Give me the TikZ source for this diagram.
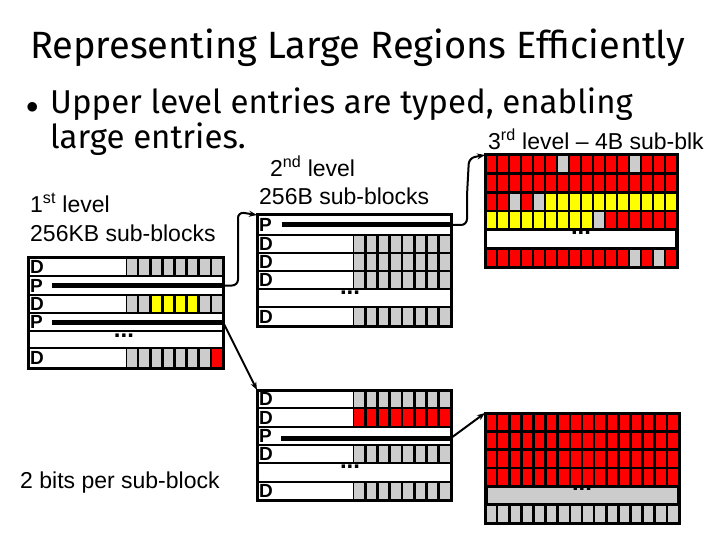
\documentclass[tikz,border=0pt]{standalone}
\usepackage{fontspec}
\setmainfont{Liberation Sans}
\newfontfamily\titlefont{Fira Sans}
\usetikzlibrary{arrows.meta}
\definecolor{cg}{RGB}{204,204,204}
\definecolor{cr}{RGB}{255,0,0}
\definecolor{cy}{RGB}{255,255,0}
\newcommand\cellrow[6]{%
  \fill[black] (#1,#3) rectangle (#2,#4);
  \foreach \cc [count=\ii] in {#6}{%
    \pgfmathsetmacro\xa{#1+(\ii-1)*(#2-#1)/#5+1.3}%
    \pgfmathsetmacro\xb{#1+\ii*(#2-#1)/#5-1.3}%
    \fill[\cc] (\xa,#3+1.3) rectangle (\xb,#4-1.3);}}
\tikzset{
  frame/.style={line width=3pt},
  sep/.style={line width=2.2pt},
  lett/.style={anchor=west,inner sep=0pt,font=\bfseries\fontsize{19}{19}\selectfont},
  lbl/.style={anchor=base west,inner sep=0pt,font=\fontsize{23}{25}\selectfont},
  pbar/.style={line width=5pt},
  dots/.style={inner sep=0pt,font=\bfseries\fontsize{24}{24}\selectfont},
  conn/.style={line width=2pt,-{Stealth[length=8pt,width=6pt]}}
}
\begin{document}
\begin{tikzpicture}[x=1pt,y=-1pt]
\useasboundingbox (0,0) rectangle (720,540);
% titles
\node[lbl,font=\titlefont\fontsize{38}{40}\selectfont] (title) at (30,59) {Representing Large Regions Efficiently};
\node[lbl,font=\titlefont\fontsize{33}{36}\selectfont] (b1) at (26,114) {$\bullet$};
\node[lbl,font=\titlefont\fontsize{33}{36}\selectfont] (t1) at (50,114) {Upper level entries are typed, enabling};
\node[lbl,font=\titlefont\fontsize{33}{36}\selectfont] (t2) at (50,149) {large entries.};
\node[lbl] (l1a) at (30,213) {1\textsuperscript{st} level};
\node[lbl] (l1b) at (30,241) {256KB sub-blocks};
\node[lbl] (l2a) at (270,177) {2\textsuperscript{nd} level};
\node[lbl] (l2b) at (259,205) {256B sub-blocks};
\node[lbl] (l3) at (488,150) {3\textsuperscript{rd} level -- 4B sub-blk};
\node[lbl] (bits) at (20,488) {2 bits per sub-block};

% ===== Level 1 =====
\cellrow{126}{223}{257}{276}{8}{cg,cg,cg,cg,cg,cg,cg,cg}
\cellrow{126}{223}{295}{313}{8}{cg,cg,cy,cy,cy,cy,cg,cg}
\cellrow{126}{223}{348}{368}{8}{cg,cg,cg,cg,cg,cg,cg,cr}
\foreach \y in {276,295,313,331,348} \draw[sep] (28,\y) -- (223,\y);
\draw[frame] (28,257) rectangle (223,368);
\node[lett] at (30,266.5) {D};
\node[lett] at (30,285.5) {P};
\node[lett] at (30,304) {D};
\node[lett] at (30,322) {P};
\node[lett] at (30,358) {D};
\node[dots] at (124,336) {...};
\draw[pbar] (52,285.5) -- (222,285.5);
\draw[pbar] (52,322) -- (222,322);
\coordinate (p1a) at (223,285.5);
\coordinate (p1b) at (223,322);

% ===== Level 2 top =====
\cellrow{353}{451}{235}{253}{8}{cg,cg,cg,cg,cg,cg,cg,cg}
\cellrow{353}{451}{253}{271}{8}{cg,cg,cg,cg,cg,cg,cg,cg}
\cellrow{353}{451}{271}{289}{8}{cg,cg,cg,cg,cg,cg,cg,cg}
\cellrow{353}{451}{307}{326}{8}{cg,cg,cg,cg,cg,cg,cg,cg}
\foreach \y in {235,253,271,289,307} \draw[sep] (257,\y) -- (451,\y);
\draw[frame] (257,215) rectangle (451,326);
\node[lett] at (259,225) {P};
\node[lett] at (259,244) {D};
\node[lett] at (259,262) {D};
\node[lett] at (259,280) {D};
\node[lett] at (259,316.5) {D};
\node[dots] at (350,293) {...};
\draw[pbar] (282,225) -- (450,225);
\coordinate (l2top) at (257,215);
\coordinate (p2a) at (451,225);

% ===== Level 2 bottom =====
\cellrow{353}{451}{390}{408}{8}{cg,cg,cg,cg,cg,cg,cg,cg}
\cellrow{353}{451}{408}{427}{8}{cr,cr,cr,cr,cr,cr,cr,cr}
\cellrow{353}{451}{445}{463}{8}{cg,cg,cg,cg,cg,cg,cg,cg}
\cellrow{353}{451}{482}{500}{8}{cg,cg,cg,cg,cg,cg,cg,cg}
\foreach \y in {408,427,445,463,482} \draw[sep] (257,\y) -- (451,\y);
\draw[frame] (257,390) rectangle (451,500);
\node[lett] at (259,399) {D};
\node[lett] at (259,417.5) {D};
\node[lett] at (259,436) {P};
\node[lett] at (259,454) {D};
\node[lett] at (259,491) {D};
\node[dots] at (350,467) {...};
\draw[pbar] (281,438) -- (450,438);
\coordinate (l2bot) at (257,390);
\coordinate (p2b) at (451,438);

% ===== Level 3 top =====
\fill[black] (485,155) rectangle (677,267);
\cellrow{485}{677}{155}{173.7}{16}{cr,cr,cr,cr,cr,cr,cg,cr,cr,cr,cr,cr,cg,cr,cr,cr}
\cellrow{485}{677}{173.7}{192.3}{16}{cr,cr,cr,cr,cr,cr,cr,cr,cr,cr,cr,cr,cr,cr,cr,cr}
\cellrow{485}{677}{192.3}{211}{16}{cr,cr,cg,cr,cg,cy,cy,cy,cy,cy,cy,cy,cy,cy,cy,cy}
\cellrow{485}{677}{211}{229.7}{16}{cy,cy,cy,cy,cy,cy,cy,cy,cy,cg,cr,cr,cr,cr,cr,cr}
\fill[white] (487,231) rectangle (675,247);
\cellrow{485}{677}{248.3}{267}{16}{cr,cr,cr,cr,cr,cr,cr,cr,cr,cr,cr,cr,cg,cr,cg,cr}
\draw[frame] (485,155) rectangle (677,267);
\node[dots] at (581,233) {...};
\coordinate (l3top) at (485,155);

% ===== Level 3 bottom =====
\fill[black] (485,413) rectangle (679,523);
\cellrow{485}{679}{413}{431.3}{16}{cr,cr,cr,cr,cr,cr,cr,cr,cr,cr,cr,cr,cr,cr,cr,cr}
\cellrow{485}{679}{431.3}{449.7}{16}{cr,cr,cr,cr,cr,cr,cr,cr,cr,cr,cr,cr,cr,cr,cr,cr}
\cellrow{485}{679}{449.7}{468}{16}{cr,cr,cr,cr,cr,cr,cr,cr,cr,cr,cr,cr,cr,cr,cr,cr}
\cellrow{485}{679}{468}{486.3}{16}{cr,cr,cr,cr,cr,cr,cr,cr,cr,cr,cr,cr,cr,cr,cr,cr}
\fill[cg] (487.5,488) rectangle (676.5,503);
\cellrow{485}{679}{504.7}{523}{16}{cg,cg,cg,cg,cg,cg,cg,cg,cg,cg,cg,cg,cg,cg,cg,cg}
\draw[frame] (485,413) rectangle (679,523);
\node[dots] at (582,489) {...};
\coordinate (l3bot) at (485,413);

% ===== connectors =====
\draw[conn,rounded corners=6pt] (p1a) -- (238,285.5) -- (238,212) -- (l2top);
\draw[conn] (p1b) -- (l2bot);
\draw[conn,rounded corners=6pt] (p2a) -- (467,225) -- (467,195) -- (469,158) -- (l3top);
\draw[conn] (p2b) -- (l3bot);
\end{tikzpicture}
\end{document}
